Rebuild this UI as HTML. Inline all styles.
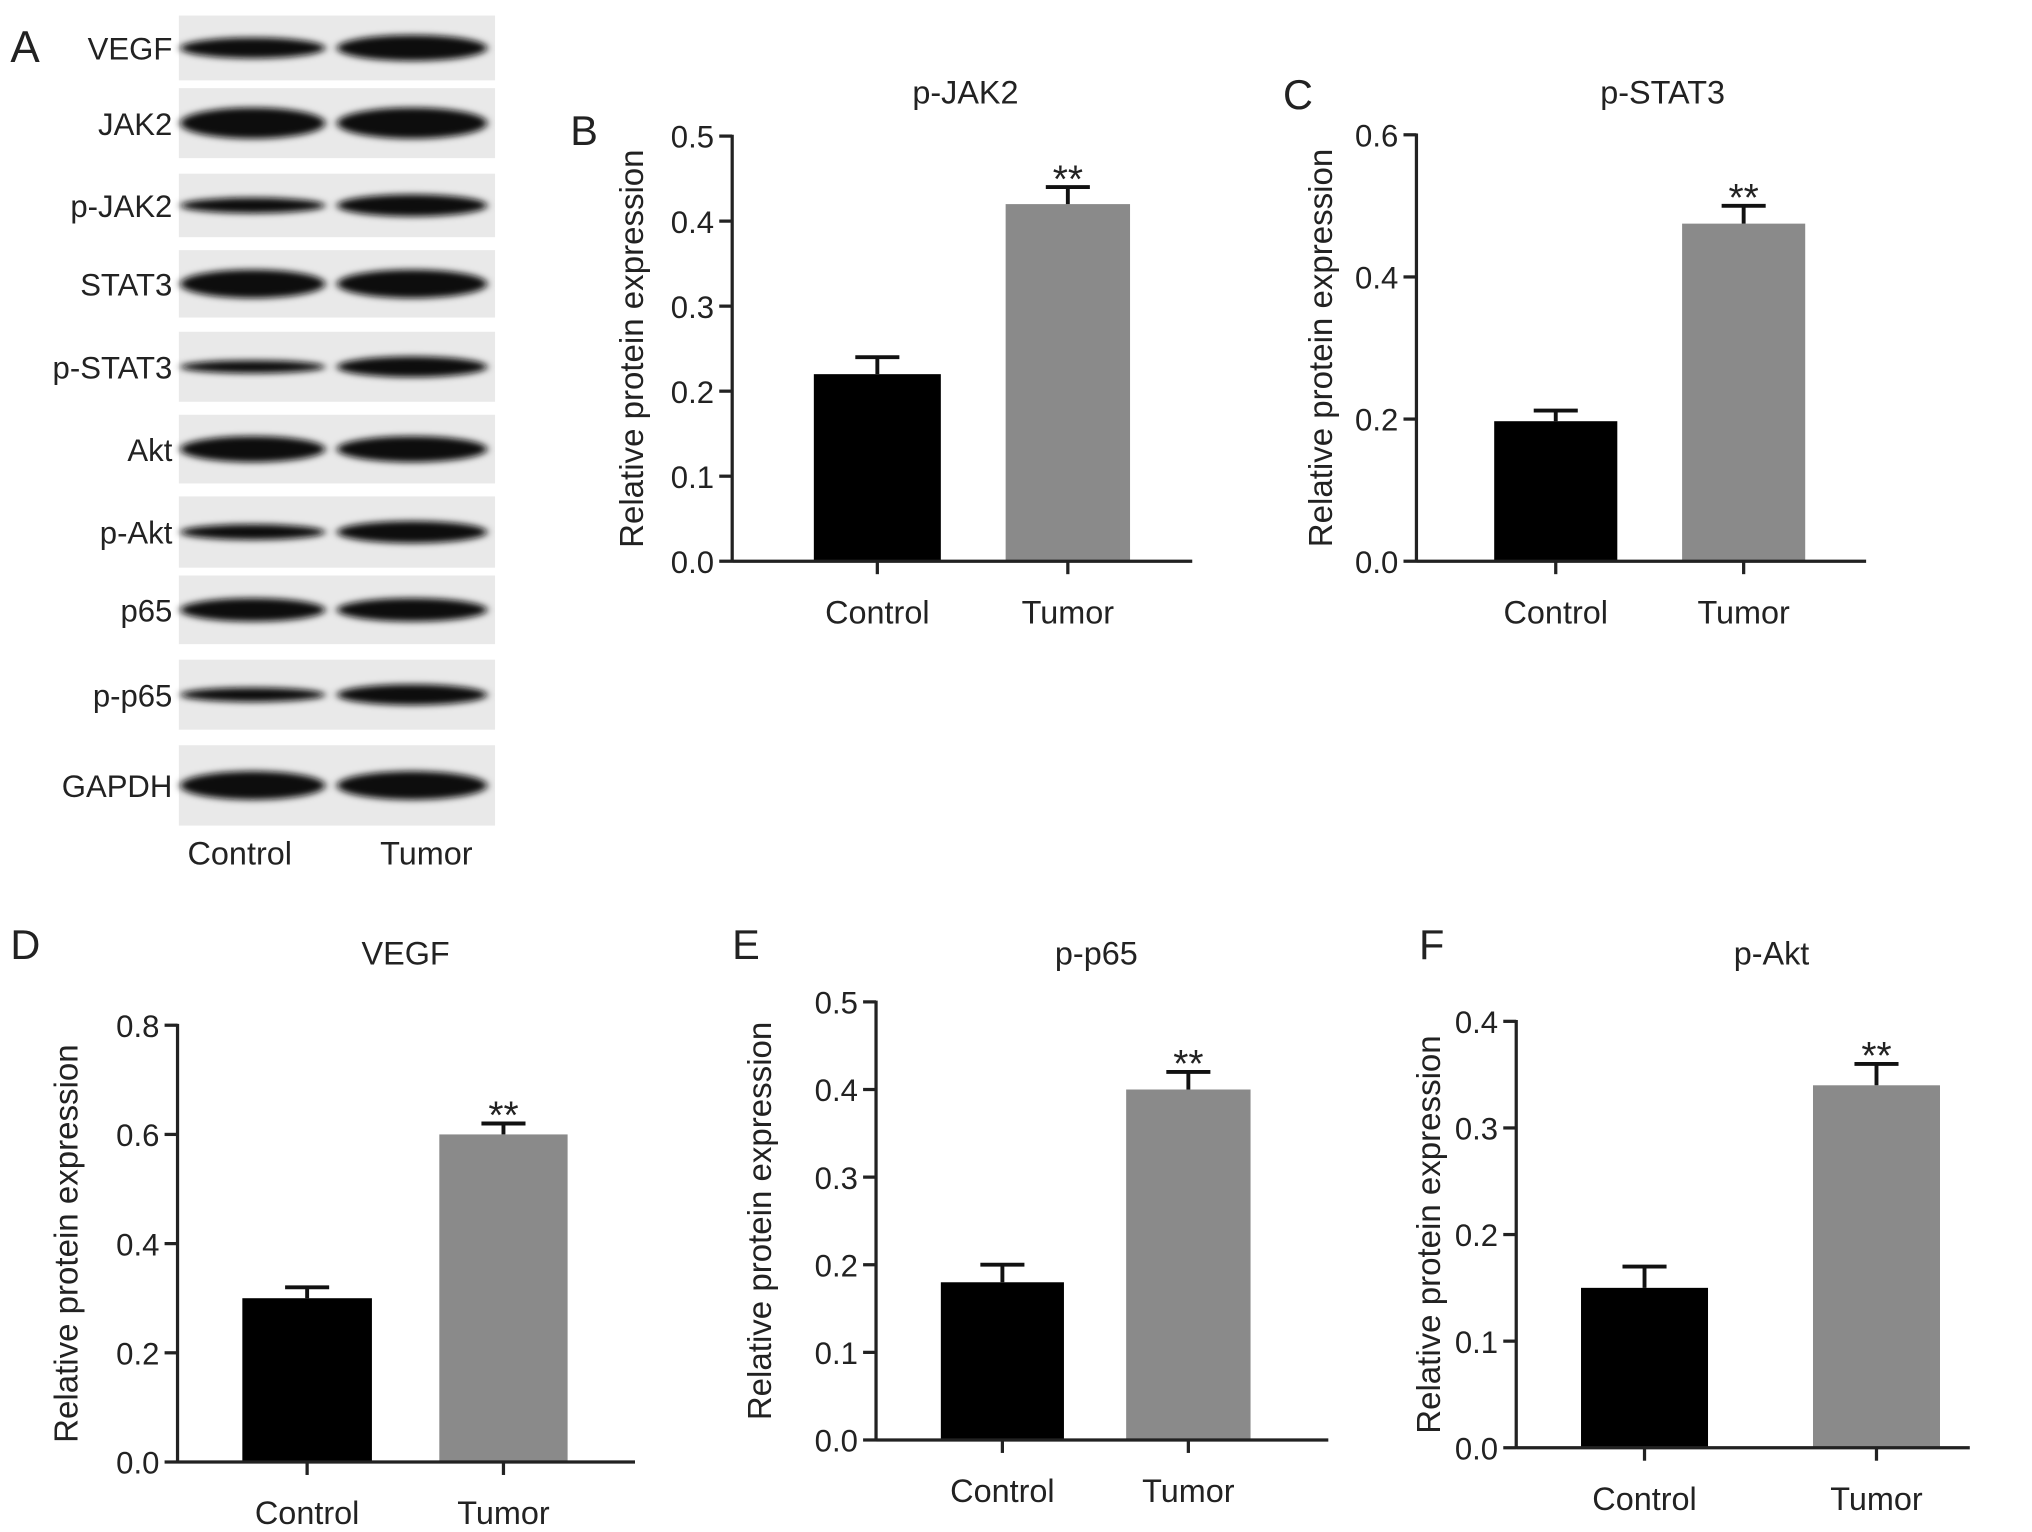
<!DOCTYPE html>
<html><head><meta charset="utf-8"><style>
html,body{margin:0;padding:0;background:#fff;}
svg{display:block;font-family:"Liberation Sans",Arial,sans-serif;}
</style></head><body>
<svg id="fig" width="2032" height="1532" viewBox="0 0 1568 1182" preserveAspectRatio="none" xmlns="http://www.w3.org/2000/svg">
<defs>
<filter id="blur" x="-20%" y="-50%" width="140%" height="200%"><feGaussianBlur stdDeviation="3 2.5"/></filter>
</defs>
<g id="blots"></g>
<g id="charts"></g>
</svg>
<script>
const NS="http://www.w3.org/2000/svg";
const svg=document.getElementById('fig');
function mk(tag,attrs,parent,txt){const e=document.createElementNS(NS,tag);for(const k in attrs)e.setAttribute(k,attrs[k]);if(txt!==undefined)e.textContent=txt;(parent||svg).appendChild(e);return e;}

// ---- Blot panel ----
const blotLabels=["VEGF","JAK2","p-JAK2","STAT3","p-STAT3","Akt","p-Akt","p65","p-p65","GAPDH"];
const blotRows=[[12,62],[68,122],[134,183],[193,245],[256,310],[320,373],[383,438],[444,497],[509,563],[575,637]];
const bandThick=[[16,20],[24,24],[12,17],[22,22],[10,16],[20,20],[12,17],[18,18],[11,16],[22,22]];
const bg=document.getElementById('blots');
const lblA=mk('text',{x:8,y:48,'font-size':34,fill:'#222'},bg,'A');


blotLabels.forEach((l,i)=>{
  const [y0,y1]=blotRows[i];const cy=(y0+y1)/2;
  const r=mk('rect',{x:138,y:y0,width:244,height:y1-y0,fill:'#e9e9e9'},bg);
  
  
  const [t1,t2]=bandThick[i];
  const b1=mk('ellipse',{cx:195,cy:cy,rx:56,ry:t1/2,fill:'#111',filter:'url(#blur)'},bg);
  
  
  const b2=mk('ellipse',{cx:318,cy:cy,rx:58,ry:t2/2,fill:'#111',filter:'url(#blur)'},bg);
  
  
  const t=mk('text',{x:133,y:cy+9,'font-size':24,'text-anchor':'end',fill:'#222'},bg,l);
  
  
});
const bc=mk('text',{x:185,y:667,'font-size':25,'text-anchor':'middle',fill:'#222'},bg,'Control');


const bt=mk('text',{x:329,y:667,'font-size':25,'text-anchor':'middle',fill:'#222'},bg,'Tumor');



// ---- Chart data ----
const categories=["Control","Tumor"];
const panelLetters=["B","C","D","E","F"];
const panelTitles=["p-JAK2","p-STAT3","VEGF","p-p65","p-Akt"];
const meansB=[0.22,0.42], errB=[0.02,0.02];
const meansC=[0.197,0.475], errC=[0.015,0.025];
const meansD=[0.30,0.60], errD=[0.02,0.02];
const meansE=[0.18,0.40], errE=[0.02,0.02];
const meansF=[0.15,0.34], errF=[0.02,0.02];
const ticksB=[0,0.1,0.2,0.3,0.4,0.5];
const ticksC=[0,0.2,0.4,0.6];
const ticksD=[0,0.2,0.4,0.6,0.8];
const ticksE=[0,0.1,0.2,0.3,0.4,0.5];
const ticksF=[0,0.1,0.2,0.3,0.4];
const sigLabels=["","**"];

const layouts=[
 {ax:565,top:105,bot:433,right:920,bars:[[628,726],[776,872]],lx:440,ly:112,tx:745,ty:80,yt:496,dec:1},
 {ax:1093,top:104,bot:433,right:1440,bars:[[1153,1248],[1298,1393]],lx:990,ly:84,tx:1283,ty:80,yt:1028,dec:1},
 {ax:137,top:791,bot:1128,right:490,bars:[[187,287],[339,438]],lx:8,ly:740,tx:313,ty:744,yt:60,dec:1},
 {ax:676,top:773,bot:1111,right:1025,bars:[[726,821],[869,965]],lx:565,ly:740,tx:846,ty:744,yt:595,dec:1},
 {ax:1170,top:788,bot:1117,right:1520,bars:[[1220,1318],[1399,1497]],lx:1095,ly:740,tx:1367,ty:744,yt:1111,dec:1}
];
const allMeans=[meansB,meansC,meansD,meansE,meansF];
const allErr=[errB,errC,errD,errE,errF];
const allTicks=[ticksB,ticksC,ticksD,ticksE,ticksF];
const charts=document.getElementById('charts');
const fills=['#000','#8a8a8a'];

layouts.forEach((L,p)=>{
  const id=panelLetters[p].toLowerCase();
  const g=mk('g',{},charts);
  
  
  const ticks=allTicks[p];const ymax=ticks[ticks.length-1];
  const y=v=>L.bot-(v/ymax)*(L.bot-L.top);
  const pl=mk('text',{x:L.lx,y:L.ly,'font-size':32,fill:'#222'},g,panelLetters[p]);
  
  
  const tt=mk('text',{x:L.tx,y:L.ty,'font-size':25,'text-anchor':'middle',fill:'#222'},g,panelTitles[p]);
  
  
  allMeans[p].forEach((m,i)=>{
    const [x0,x1]=L.bars[i];const cx=(x0+x1)/2;
    const b=mk('rect',{x:x0,y:y(m),width:x1-x0,height:L.bot-y(m),fill:fills[i]},g);
    
    
    const e=allErr[p][i];
    const el=mk('path',{d:`M${cx},${y(m)} V${y(m+e)} M${cx-17},${y(m+e)} H${cx+17}`,stroke:'#111','stroke-width':3,fill:'none'},g);
    
    
    if(sigLabels[i]){
      const s=mk('text',{x:cx,y:y(m+e)+4,'font-size':30,'text-anchor':'middle',fill:'#222'},g,sigLabels[i]);
      
      
    }
    const cl=mk('line',{x1:cx,x2:cx,y1:L.bot,y2:L.bot+10,stroke:'#222','stroke-width':2.5},g);
    
    
    const ct=mk('text',{x:cx,y:L.bot+48,'font-size':25,'text-anchor':'middle',fill:'#222'},g,categories[i]);
    
    
  });
  const ya=mk('line',{x1:L.ax,x2:L.ax,y1:L.top-1,y2:L.bot+1,stroke:'#222','stroke-width':2.5},g);
  
  
  const xa=mk('line',{x1:L.ax,x2:L.right,y1:L.bot,y2:L.bot,stroke:'#222','stroke-width':2.5},g);
  
  
  ticks.forEach(t=>{
    const tl=mk('line',{x1:L.ax-10,x2:L.ax,y1:y(t),y2:y(t),stroke:'#222','stroke-width':2.5},g);
    
    
    const tx=mk('text',{x:L.ax-14,y:y(t)+9,'font-size':24,'text-anchor':'end',fill:'#222'},g,t.toFixed(L.dec));
    
    
  });
  const cy=(L.top+L.bot)/2;
  const yt=mk('text',{x:L.yt,y:cy,'font-size':25.5,'text-anchor':'middle',fill:'#222',transform:`rotate(-90 ${L.yt} ${cy})`},g,'Relative protein expression');
  
  
});
</script>
</body></html>
